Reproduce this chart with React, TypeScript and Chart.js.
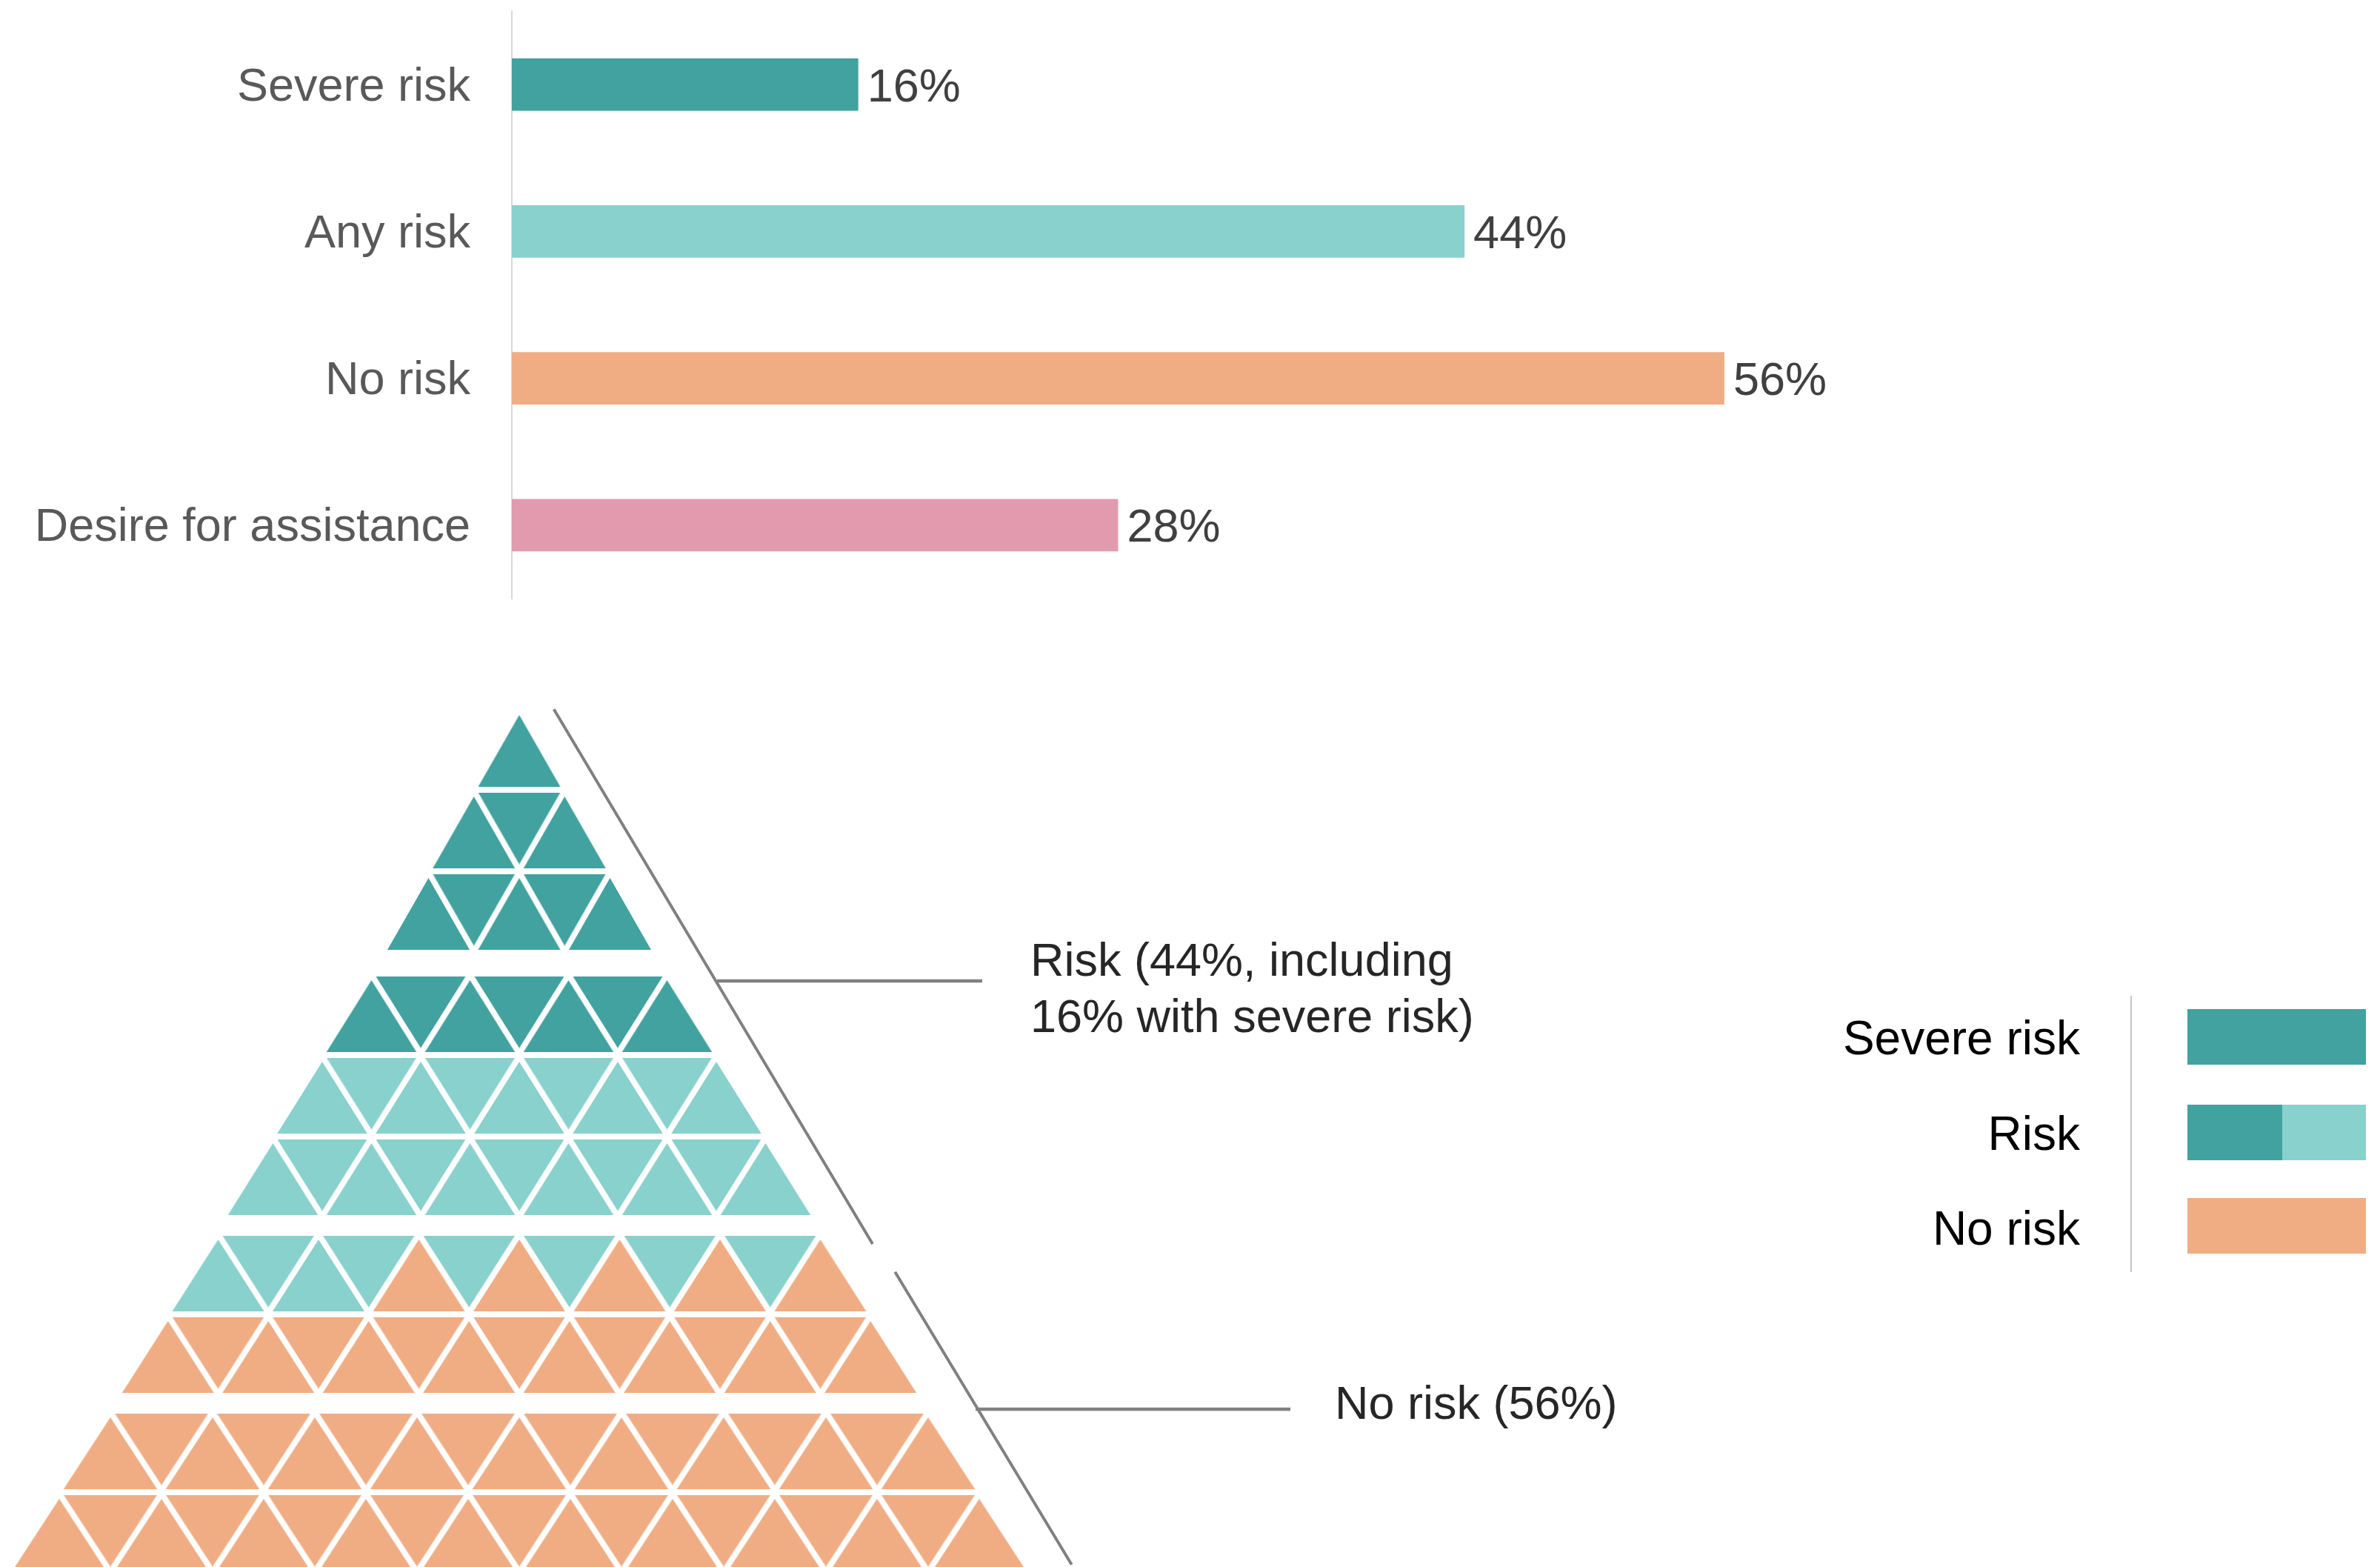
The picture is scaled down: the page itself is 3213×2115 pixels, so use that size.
import React, { useEffect, useRef } from 'react';
import { Chart, registerables } from 'chart.js';

Chart.register(...registerables);

// ---------------- Data ----------------
// Bar chart (top)
const BAR_CATEGORIES = ['Severe risk', 'Any risk', 'No risk', 'Desire for assistance'];
const BAR_VALUES = [16, 44, 56, 28];
const BAR_COLORS = ['#41A29F', '#88D1CC', '#F0AD84', '#E29AAE'];

// Pyramid (bottom): 100 triangles = 100 %
const PYRAMID_GROUPS = ['Severe risk', 'Risk', 'No risk'];
const PYRAMID_COUNTS = [16, 28, 56]; // severe 16, other risk 28 (=44 total risk), no risk 56
const PYRAMID_COLORS = ['#41A29F', '#88D1CC', '#F0AD84'];
const ROWS_PER_BAND = [3, 3, 2, 2];

// Texts
const ANNOTATION_RISK = ['Risk (44%, including', '16% with severe risk)'];
const ANNOTATION_NO_RISK = ['No risk (56%)'];
const LEGEND_LABELS = ['Severe risk', 'Risk', 'No risk'];

// ---------------- Layout ----------------
const W = 3213;
const H = 2115;
const TOP_H = 880;
const FONT = "'Liberation Sans', Arial, Helvetica, sans-serif";

const PYR = {
  apexX: 701,
  firstBaseY: 1062,
  rowPitch: 110,
  bandExtra: [0, 28, 48, 68],
  bandPitch: [122.5, 133, 135.5, 138],
  triH: 97,
  upShift: -48.5,
  downShift: -54,
  gapX: 11.5,
};

const LINES = {
  diag1: [[747.7, 957.3], [1178, 1679]],
  diag2: [[1208.3, 1716.7], [1446.7, 2111.7]],
  lead1: [[968, 1324], [1326, 1324]],
  lead2: [[1317, 1902], [1742, 1902]],
};

const LEGEND = {
  textRight: 2808,
  baselines: [1423, 1552, 1680],
  sepX: 2877,
  sepY: [1344, 1717],
  boxX: 2953,
  boxW: 241,
  boxH: 75,
  boxTops: [1362, 1491, 1617],
  splitX: 3081,
};

function makeTriangle(color: string, base: number, height: number) {
  const c = document.createElement('canvas');
  const w = Math.ceil(base) + 2;
  c.width = w;
  c.height = height;
  const ctx = c.getContext('2d')!;
  ctx.fillStyle = color;
  const l = (w - base) / 2;
  ctx.beginPath();
  ctx.moveTo(l + base / 2, 0);
  ctx.lineTo(l + base, height);
  ctx.lineTo(l, height);
  ctx.closePath();
  ctx.fill();
  return c;
}

type Cell = { x: number; y: number; band: number; up: boolean };

function buildPyramid(): Cell[][] {
  const ordered: Cell[] = [];
  let row = 0;
  ROWS_PER_BAND.forEach((n, b) => {
    for (let i = 0; i < n; i++, row++) {
      const baseY = PYR.firstBaseY + row * PYR.rowPitch + PYR.bandExtra[b];
      const p = PYR.bandPitch[b];
      const cells: Cell[] = [];
      for (let k = 0; k <= 2 * row; k++) {
        const up = k % 2 === 0;
        cells.push({
          x: PYR.apexX + ((k - row) * p) / 2,
          y: baseY + (up ? PYR.upShift : PYR.downShift),
          band: b,
          up,
        });
      }
      // fill order inside a row: downward triangles first, then upward, left to right
      ordered.push(...cells.filter((c) => !c.up), ...cells.filter((c) => c.up));
    }
  });
  const groups: Cell[][] = PYRAMID_GROUPS.map(() => []);
  let idx = 0;
  PYRAMID_COUNTS.forEach((count, g) => {
    for (let i = 0; i < count; i++) groups[g].push(ordered[idx++]);
  });
  return groups;
}

export default function App() {
  const topRef = useRef<HTMLCanvasElement>(null);
  const botRef = useRef<HTMLCanvasElement>(null);

  useEffect(() => {
    const pxPerUnit = 29.23;
    const xMax = 60;
    const leftAxis = 691;
    const rightPad = W - leftAxis - xMax * pxPerUnit;

    const valueLabels = {
      id: 'valueLabels',
      afterDatasetsDraw(chart: any) {
        const ctx = chart.ctx;
        const meta = chart.getDatasetMeta(0);
        ctx.save();
        ctx.font = `63px ${FONT}`;
        ctx.fillStyle = '#404040';
        ctx.textBaseline = 'middle';
        ctx.textAlign = 'left';
        meta.data.forEach((bar: any, i: number) => {
          ctx.fillText(`${BAR_VALUES[i]}%`, bar.x + 12, bar.y + 5);
        });
        ctx.restore();
      },
    };

    const top = new Chart(topRef.current!, {
      type: 'bar',
      data: {
        labels: BAR_CATEGORIES,
        datasets: [
          {
            data: BAR_VALUES,
            backgroundColor: BAR_COLORS,
            barPercentage: 0.358,
            categoryPercentage: 1,
          },
        ],
      },
      options: {
        indexAxis: 'y',
        responsive: false,
        animation: false,
        events: [],
        layout: { autoPadding: false, padding: { top: 15, bottom: TOP_H - 808, left: 0, right: rightPad } },
        plugins: { legend: { display: false }, tooltip: { enabled: false } },
        scales: {
          x: { type: 'linear', min: 0, max: xMax, display: false },
          y: {
            afterFit: (s: any) => {
              s.width = leftAxis;
              s.paddingTop = 0;
              s.paddingBottom = 0;
            },
            grid: { display: false, drawTicks: false },
            border: { display: true, color: '#d9d9d9', width: 2 },
            ticks: { color: '#595959', font: { family: FONT, size: 63 }, padding: 56, labelOffset: 4 },
          },
        },
      },
      plugins: [valueLabels],
    } as any);

    // ---------- Pyramid ----------
    const groups = buildPyramid();
    const imgs = PYRAMID_COLORS.map((col) =>
      PYR.bandPitch.map((p) => makeTriangle(col, p - PYR.gapX, PYR.triH))
    );

    const triDatasets = groups.map((cells, g) => ({
      type: 'scatter',
      label: PYRAMID_GROUPS[g],
      data: cells.map((c) => ({ x: c.x, y: c.y })),
      pointStyle: cells.map((c) => imgs[g][c.band]),
      pointRotation: cells.map((c) => (c.up ? 0 : 180)),
      pointRadius: 10,
      pointHoverRadius: 10,
      showLine: false,
      clip: false,
    }));

    const lineDs = (pts: number[][], width: number) => ({
      type: 'line',
      data: pts.map((p) => ({ x: p[0], y: p[1] })),
      borderColor: '#808080',
      borderWidth: width,
      borderCapStyle: 'butt',
      pointRadius: 0,
      fill: false,
      clip: false,
    });

    const textPlugin = {
      id: 'pyramidTexts',
      afterDraw(chart: any) {
        const ctx = chart.ctx;
        const sx = (v: number) => chart.scales.x.getPixelForValue(v);
        const sy = (v: number) => chart.scales.y.getPixelForValue(v);
        ctx.save();
        // annotations
        ctx.font = `63px ${FONT}`;
        ctx.fillStyle = '#262626';
        ctx.textAlign = 'left';
        ctx.textBaseline = 'alphabetic';
        ANNOTATION_RISK.forEach((t, i) => ctx.fillText(t, sx(1391), sy(1317 + i * 76)));
        ANNOTATION_NO_RISK.forEach((t, i) => ctx.fillText(t, sx(1802), sy(1915 + i * 76)));

        // legend separator
        ctx.strokeStyle = '#c4c4c4';
        ctx.lineWidth = 2;
        ctx.beginPath();
        ctx.moveTo(sx(LEGEND.sepX), sy(LEGEND.sepY[0]));
        ctx.lineTo(sx(LEGEND.sepX), sy(LEGEND.sepY[1]));
        ctx.stroke();

        // legend texts
        ctx.font = `64px ${FONT}`;
        ctx.fillStyle = '#000000';
        ctx.textAlign = 'right';
        LEGEND_LABELS.forEach((t, i) => ctx.fillText(t, sx(LEGEND.textRight), sy(LEGEND.baselines[i])));

        // legend boxes
        const box = (x0: number, x1: number, yTop: number, color: string) => {
          ctx.fillStyle = color;
          const a = sx(x0), b = sx(x1), t = sy(yTop), bt = sy(yTop + LEGEND.boxH);
          ctx.fillRect(a, t, b - a, bt - t);
        };
        box(LEGEND.boxX, LEGEND.boxX + LEGEND.boxW, LEGEND.boxTops[0], PYRAMID_COLORS[0]);
        box(LEGEND.boxX, LEGEND.splitX, LEGEND.boxTops[1], PYRAMID_COLORS[0]);
        box(LEGEND.splitX, LEGEND.boxX + LEGEND.boxW, LEGEND.boxTops[1], PYRAMID_COLORS[1]);
        box(LEGEND.boxX, LEGEND.boxX + LEGEND.boxW, LEGEND.boxTops[2], PYRAMID_COLORS[2]);
        ctx.restore();
      },
    };

    const bot = new Chart(botRef.current!, {
      type: 'scatter',
      data: {
        datasets: [
          ...triDatasets,
          lineDs(LINES.diag1, 4),
          lineDs(LINES.diag2, 4),
          lineDs(LINES.lead1, 4.5),
          lineDs(LINES.lead2, 4.5),
        ],
      },
      options: {
        responsive: false,
        animation: false,
        events: [],
        layout: { autoPadding: false, padding: 0 },
        plugins: { legend: { display: false }, tooltip: { enabled: false } },
        scales: {
          x: { type: 'linear', min: 0, max: W, display: false },
          y: { type: 'linear', min: TOP_H, max: H, reverse: true, display: false },
        },
      },
      plugins: [textPlugin],
    } as any);

    return () => {
      top.destroy();
      bot.destroy();
    };
  }, []);

  return (
    <div
      style={{
        position: 'absolute',
        left: 0,
        top: 0,
        width: W,
        height: H,
        background: '#ffffff',
        overflow: 'hidden',
      }}
    >
      <canvas
        ref={topRef}
        width={W}
        height={TOP_H}
        style={{ position: 'absolute', left: 0, top: 0, width: W, height: TOP_H, display: 'block' }}
      />
      <canvas
        ref={botRef}
        width={W}
        height={H - TOP_H}
        style={{ position: 'absolute', left: 0, top: TOP_H, width: W, height: H - TOP_H, display: 'block' }}
      />
    </div>
  );
}
